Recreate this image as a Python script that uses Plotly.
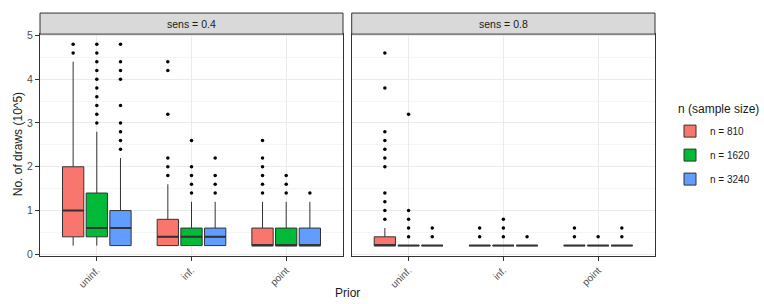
import plotly.graph_objects as go

W, H = 764, 304

priors = ["uninf.", "inf.", "point"]
size_labels = ["n = 810", "n = 1620", "n = 3240"]
panel_labels = ["sens = 0.4", "sens = 0.8"]
legend_title = "n (sample size)"
colors = ["#F8766D", "#00BA38", "#619CFF"]
y_ticks = [0, 1, 2, 3, 4, 5]

# ---- sens = 0.4 : rows = sample sizes (810, 1620, 3240), columns = priors
q1_s04 = [[0.4, 0.2, 0.2], [0.4, 0.2, 0.2], [0.2, 0.2, 0.2]]
med_s04 = [[1.0, 0.4, 0.2], [0.6, 0.4, 0.2], [0.6, 0.4, 0.2]]
q3_s04 = [[2.0, 0.8, 0.6], [1.4, 0.6, 0.6], [1.0, 0.6, 0.6]]
low_s04 = [[0.2, 0.2, 0.2], [0.2, 0.2, 0.2], [0.2, 0.2, 0.2]]
up_s04 = [[4.4, 1.6, 1.2], [2.8, 1.2, 1.2], [2.2, 1.2, 1.2]]
out_s04 = [
    [[4.6, 4.8], [1.8, 2.0, 2.2, 3.2, 4.2, 4.4], [1.4, 1.6, 1.8, 2.0, 2.2, 2.6]],
    [[3.0, 3.2, 3.4, 3.6, 3.8, 4.0, 4.2, 4.4, 4.6, 4.8], [1.4, 1.6, 1.8, 2.0, 2.6], [1.4, 1.6, 1.8]],
    [[2.4, 2.6, 2.8, 3.0, 3.4, 4.0, 4.2, 4.4, 4.8], [1.4, 1.6, 1.8, 2.2], [1.4]],
]

# ---- sens = 0.8
q1_s08 = [[0.2, 0.2, 0.2], [0.2, 0.2, 0.2], [0.2, 0.2, 0.2]]
med_s08 = [[0.2, 0.2, 0.2], [0.2, 0.2, 0.2], [0.2, 0.2, 0.2]]
q3_s08 = [[0.4, 0.2, 0.2], [0.2, 0.2, 0.2], [0.2, 0.2, 0.2]]
low_s08 = [[0.2, 0.2, 0.2], [0.2, 0.2, 0.2], [0.2, 0.2, 0.2]]
up_s08 = [[0.6, 0.2, 0.2], [0.2, 0.2, 0.2], [0.2, 0.2, 0.2]]
out_s08 = [
    [[0.8, 1.0, 1.2, 1.4, 2.0, 2.2, 2.4, 2.6, 2.8, 3.8, 4.6], [0.4, 0.6], [0.4, 0.6]],
    [[0.4, 0.6, 0.8, 1.0, 3.2], [0.4, 0.6, 0.8], [0.4]],
    [[0.4, 0.6], [0.4], [0.4, 0.6]],
]

panels = [
    dict(q1=q1_s04, med=med_s04, q3=q3_s04, low=low_s04, up=up_s04, out=out_s04),
    dict(q1=q1_s08, med=med_s08, q3=q3_s08, low=low_s08, up=up_s08, out=out_s08),
]

DODGE = 0.25
BOX_W = 0.225
GREY20 = "#333333"
FONT = "Liberation Sans"


def px_x(p):
    return p / W


def px_y(p):
    return 1 - p / H


fig = go.Figure()

for pi, pdata in enumerate(panels):
    xa = "x" if pi == 0 else "x2"
    ya = "y" if pi == 0 else "y2"
    for j in range(3):
        pos = [k + 1 + (j - 1) * DODGE for k in range(len(priors))]
        fig.add_trace(go.Box(
            x=pos, q1=pdata["q1"][j], median=pdata["med"][j], q3=pdata["q3"][j],
            lowerfence=pdata["low"][j], upperfence=pdata["up"][j],
            width=BOX_W, fillcolor=colors[j],
            line=dict(color=GREY20, width=1), whiskerwidth=0, boxpoints=False,
            name=size_labels[j], legendgroup=size_labels[j], showlegend=(pi == 0),
            xaxis=xa, yaxis=ya, hoverinfo="skip",
        ))
        # thicker median line (ggplot fatten = 2)
        mx, my = [], []
        for k in range(len(priors)):
            mx += [pos[k] - BOX_W / 2, pos[k] + BOX_W / 2, None]
            my += [pdata["med"][j][k], pdata["med"][j][k], None]
        fig.add_trace(go.Scatter(
            x=mx, y=my, mode="lines", line=dict(color=GREY20, width=2),
            showlegend=False, xaxis=xa, yaxis=ya, hoverinfo="skip",
        ))
        # outliers
        ox, oy = [], []
        for k in range(len(priors)):
            for v in pdata["out"][j][k]:
                ox.append(pos[k])
                oy.append(v)
        fig.add_trace(go.Scatter(
            x=ox, y=oy, mode="markers", marker=dict(color="black", size=3.5),
            showlegend=False, xaxis=xa, yaxis=ya, hoverinfo="skip",
        ))

y_dom = [px_y(258.3), px_y(30)]
x_doms = [[px_x(40), px_x(343)], [px_x(351.7), px_x(655)]]

common_x = dict(
    range=[0.4, 3.6], tickvals=[1, 2, 3], ticktext=priors, tickangle=-45,
    showgrid=True, gridcolor="#EBEBEB", gridwidth=1,
    showline=True, mirror=True, linecolor=GREY20, linewidth=1,
    ticks="outside", ticklen=4, tickcolor=GREY20, tickwidth=1,
    tickfont=dict(family=FONT, size=10, color="#4D4D4D"),
    zeroline=False, fixedrange=True,
)
common_y = dict(
    range=[-0.03, 5.03], tickvals=y_ticks, domain=y_dom,
    showgrid=True, gridcolor="#EBEBEB", gridwidth=1,
    minor=dict(dtick=0.5, tick0=0, showgrid=True, gridcolor="#F5F5F5", gridwidth=0.6),
    showline=True, mirror=True, linecolor=GREY20, linewidth=1,
    zeroline=False, fixedrange=True,
)

fig.update_layout(
    width=W, height=H,
    margin=dict(l=0, r=0, t=0, b=0),
    paper_bgcolor="white", plot_bgcolor="white",
    font=dict(family=FONT, color="#1A1A1A"),
    boxmode="overlay",
    xaxis=dict(domain=x_doms[0], anchor="y", **common_x),
    xaxis2=dict(domain=x_doms[1], anchor="y2", **common_x),
    yaxis=dict(anchor="x", ticks="outside", ticklen=4, tickcolor=GREY20, tickwidth=1,
               tickfont=dict(family=FONT, size=10.5, color="#4D4D4D"), **common_y),
    yaxis2=dict(anchor="x2", matches="y", showticklabels=False, ticks="", **common_y),
    legend=dict(
        x=px_x(670), y=px_y(115), xanchor="left", yanchor="top",
        font=dict(family=FONT, size=10, color="#1A1A1A"),
        tracegroupgap=5, bgcolor="rgba(0,0,0,0)",
    ),
    showlegend=True,
)

shapes = []
annotations = []
for pi in range(2):
    x0, x1 = x_doms[pi]
    shapes.append(dict(type="rect", xref="paper", yref="paper",
                       x0=x0, x1=x1, y0=px_y(30), y1=px_y(8.3),
                       fillcolor="#D9D9D9", line=dict(color=GREY20, width=1), layer="above"))
    annotations.append(dict(xref="paper", yref="paper", x=(x0 + x1) / 2, y=px_y(19.2),
                            text=panel_labels[pi], showarrow=False,
                            font=dict(family=FONT, size=10.5, color="#1A1A1A"),
                            xanchor="center", yanchor="middle"))

annotations.append(dict(xref="paper", yref="paper", x=px_x(676), y=px_y(107),
                        text=legend_title, showarrow=False, xanchor="left", yanchor="middle",
                        font=dict(family=FONT, size=12, color="#1A1A1A")))
annotations.append(dict(xref="paper", yref="paper", x=px_x(347.5), y=px_y(297),
                        text="Prior", showarrow=False, xanchor="center", yanchor="middle",
                        font=dict(family=FONT, size=12, color="#1A1A1A")))
annotations.append(dict(xref="paper", yref="paper", x=px_x(17.5), y=px_y(144),
                        text="No. of draws (10^5)", showarrow=False, textangle=-90,
                        xanchor="center", yanchor="middle",
                        font=dict(family=FONT, size=12, color="#1A1A1A")))

fig.update_layout(shapes=shapes, annotations=annotations)

fig.write_html(
    "out.html",
    config={"displayModeBar": False},
    post_script="document.body.style.margin='0';document.body.style.padding='0';"
                "document.body.style.overflow='hidden';",
)
